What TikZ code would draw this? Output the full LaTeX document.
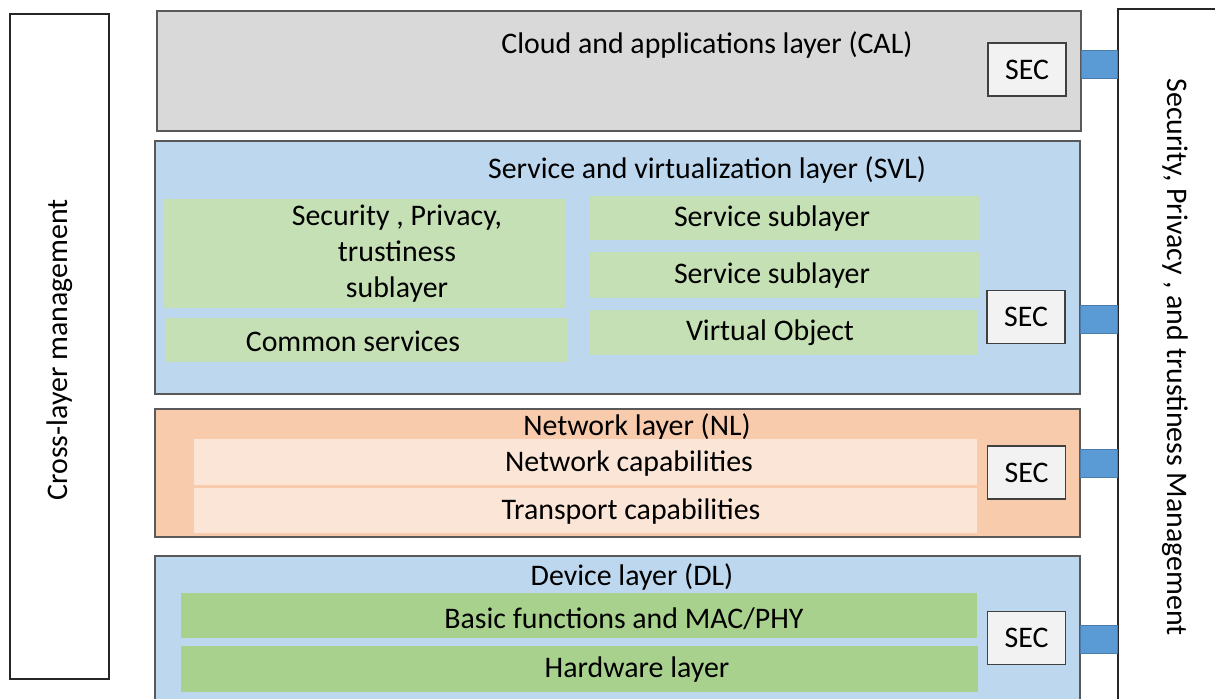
\documentclass[tikz,border=0pt]{standalone}
\usepackage{fontspec}
\setmainfont{Carlito}
\usetikzlibrary{positioning}
\definecolor{calgray}{HTML}{D9D9D9}
\definecolor{svlblue}{HTML}{BDD7EE}
\definecolor{lightgreen}{HTML}{C5E0B4}
\definecolor{nlorange}{HTML}{F8CBAD}
\definecolor{lightorange}{HTML}{FBE5D6}
\definecolor{dlgreen}{HTML}{A9D18E}
\definecolor{secgray}{HTML}{F2F2F2}
\definecolor{connblue}{HTML}{5B9BD5}

\begin{document}
\begin{tikzpicture}[x=0.02cm,y=-0.02cm,
every node/.style={font=\fontsize{17}{20.4}\selectfont},
txt/.style={yshift=-1.5pt},
layer/.style={draw=black!65,line width=0.8pt,minimum width=18.5cm,inner sep=0pt},
subbox/.style={inner sep=0pt},
secbox/.style={draw=black!75,fill=secgray,line width=0.8pt,minimum width=1.56cm,minimum height=1.06cm,inner sep=0pt},
side/.style={draw=black!85,line width=0.8pt,fill=white,inner sep=0pt},
conn/.style={fill=connblue,draw=connblue!80!black,line width=0.4pt}]
\useasboundingbox (0,0) rectangle (1215,699);
\clip (0,0) rectangle (1215,699);

% side boxes
\node[side,minimum width=1.98cm,minimum height=13.3cm] (cross) at (59.5,346.5) {};
\node[rotate=90] (crosstxt) at (60,350) {Cross-layer management};
\node[side,minimum width=2.44cm,minimum height=14.22cm] (mgmt) at (1179,364.5) {};
\node[rotate=-90] (mgmttxt) at (1175,357) {Security, Privacy , and trustiness Management};

% cloud and applications layer
\node[layer,fill=calgray,minimum width=18.48cm,minimum height=2.4cm] (cal) at (619,71) {};
\node[txt] (caltxt) at (707,42) {Cloud and applications layer (CAL)};
\node[secbox] (secA) at (1027,69.5) {SEC};

% service and virtualization layer
\node[layer,fill=svlblue,minimum height=5.06cm] (svl) at (617.5,267.5) {};
\node[txt] (svltxt) at (707,167) {Service and virtualization layer (SVL)};
\node[subbox,fill=lightgreen,minimum width=8.06cm,minimum height=2.18cm] (spt) at (364.5,253.5) {};
\node[txt,align=center] (spttxt) at (397,251) {Security , Privacy,\\trustiness\\sublayer};
\node[subbox,fill=lightgreen,minimum width=8.04cm,minimum height=0.88cm] (common) at (366,340) {};
\node[txt] (commontxt) at (353,339) {Common services};
\node[subbox,fill=lightgreen,minimum width=7.8cm,minimum height=0.88cm] (servA) at (785,218) {};
\node[txt] (servAtxt) at (772,216) {Service sublayer};
\node[subbox,fill=lightgreen,minimum width=7.8cm,minimum height=0.92cm] (servB) at (785,275) {};
\node[txt] (servBtxt) at (772,273) {Service sublayer};
\node[subbox,fill=lightgreen,minimum width=7.78cm,minimum height=0.9cm] (vobj) at (783.5,332.5) {};
\node[txt] (vobjtxt) at (770,330) {Virtual Object};
\node[secbox] (secB) at (1026,317) {SEC};

% network layer
\node[layer,fill=nlorange,minimum height=2.56cm] (nl) at (617.5,473) {};
\node[txt] (nltxt) at (637,424) {Network layer (NL)};
\node[subbox,fill=lightorange,minimum width=15.66cm,minimum height=0.92cm] (netcap) at (585.5,462) {};
\node[txt] (netcaptxt) at (629,461) {Network capabilities};
\node[subbox,fill=lightorange,minimum width=15.66cm,minimum height=0.9cm] (trans) at (585.5,510.5) {};
\node[txt] (transtxt) at (631,509) {Transport capabilities};
\node[secbox] (secC) at (1026.5,472.5) {SEC};

% device layer
\node[layer,fill=svlblue,minimum height=3.08cm] (dl) at (617.5,633) {};
\node[txt] (dltxt) at (632,574) {Device layer (DL)};
\node[subbox,fill=dlgreen,minimum width=15.92cm,minimum height=0.9cm] (basic) at (579,615.5) {};
\node[txt] (basictxt) at (624,616) {Basic functions and MAC/PHY};
\node[subbox,fill=dlgreen,minimum width=15.94cm,minimum height=0.92cm] (hw) at (579.5,669) {};
\node[txt] (hwtxt) at (637,667) {Hardware layer};
\node[secbox] (secD) at (1026.5,638) {SEC};

% links to the security management box
\filldraw[conn] (cal.east |- 0,50) rectangle (mgmt.west |- 0,78);
\filldraw[conn] (svl.east |- 0,305) rectangle (mgmt.west |- 0,333);
\filldraw[conn] (nl.east |- 0,449) rectangle (mgmt.west |- 0,477);
\filldraw[conn] (dl.east |- 0,625) rectangle (mgmt.west |- 0,653);

\end{tikzpicture}
\end{document}
